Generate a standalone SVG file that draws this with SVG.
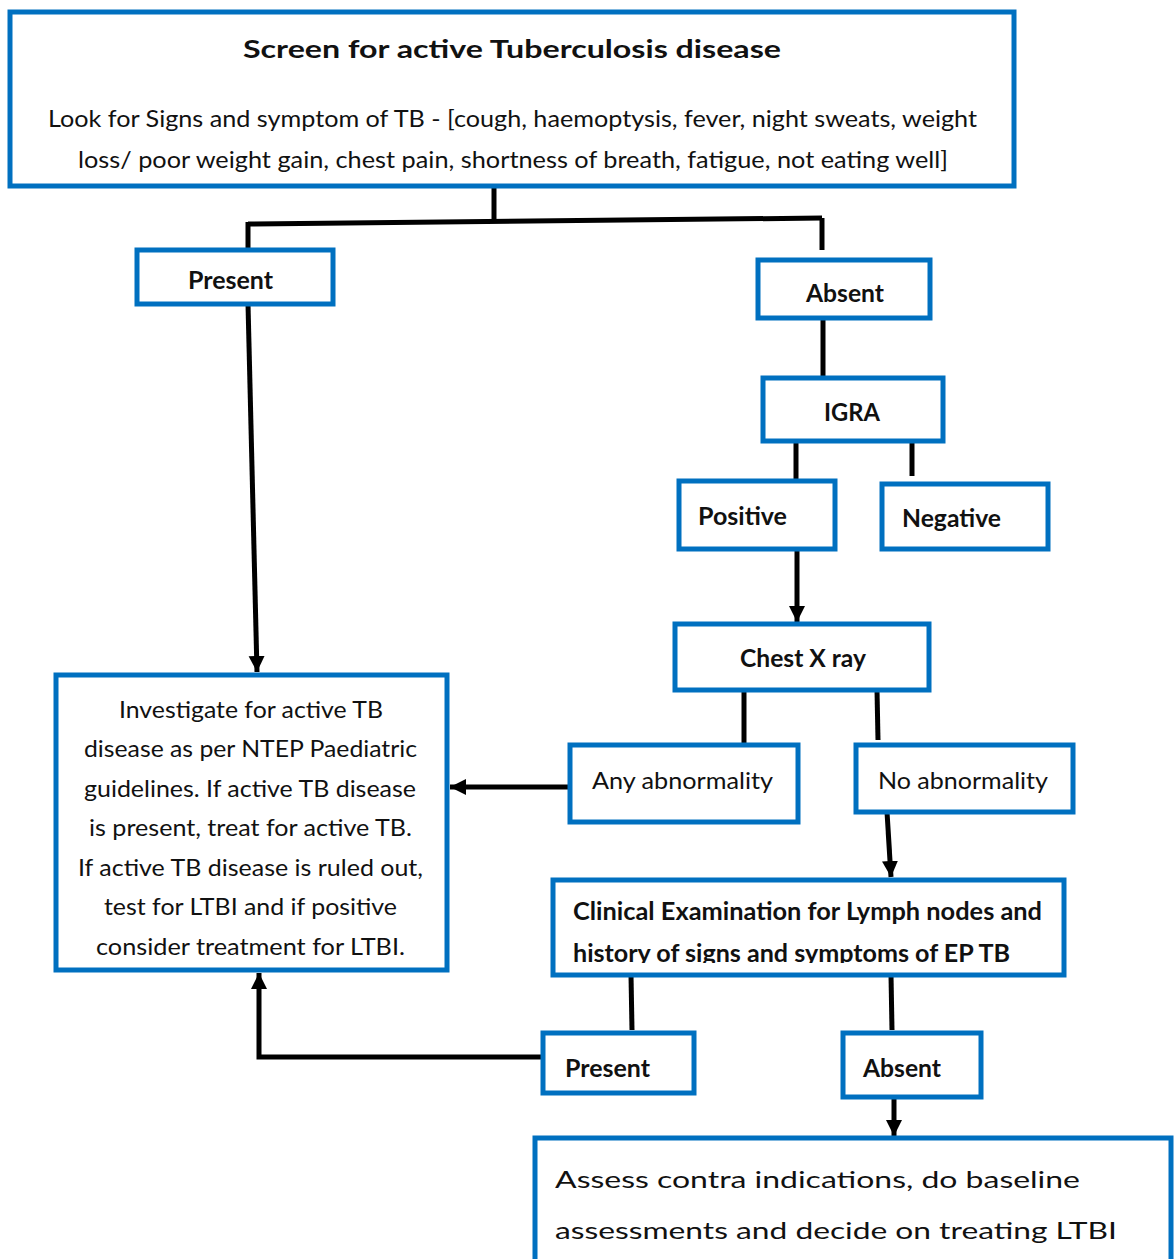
<svg xmlns="http://www.w3.org/2000/svg" width="1174" height="1259" viewBox="0 0 1174 1259">
<style>
.box{fill:#fff;stroke:#0070C0;stroke-width:5}
.ln{fill:none;stroke:#000;stroke-width:5}
text{font-family:Lato,"Open Sans","Liberation Sans",sans-serif;fill:#111;font-size:24px}
.b{font-weight:bold}
.c{text-anchor:middle}
</style>
<defs>
<marker id="ah" markerUnits="userSpaceOnUse" markerWidth="18" markerHeight="18" viewBox="0 0 18 18" refX="16" refY="9" orient="auto">
<path d="M0,1 L16,9 L0,17 Z" fill="#000"/>
</marker>
<clipPath id="clipClin"><rect x="556" y="883" width="505" height="80"/></clipPath>
</defs>
<rect width="1174" height="1259" fill="#fff"/>
<g id="connectors">
<path class="ln" d="M494,186 L494,220"/>
<path class="ln" d="M248,224 L822,218"/>
<path class="ln" d="M248,222 L248,250"/>
<path class="ln" d="M822,218 L822,250"/>
<path class="ln" d="M823,318 L823,378"/>
<path class="ln" d="M796,441 L796,481"/>
<path class="ln" d="M912,441 L912,476"/>
<path class="ln" d="M797,549 L797,622" marker-end="url(#ah)"/>
<path class="ln" d="M744,690 L744,745"/>
<path class="ln" d="M877,690 L878,740"/>
<path class="ln" d="M570,787 L450,787" marker-end="url(#ah)"/>
<path class="ln" d="M248,304 L257,672" marker-end="url(#ah)"/>
<path class="ln" d="M887,812 L891,877" marker-end="url(#ah)"/>
<path class="ln" d="M631,975 L632,1030"/>
<path class="ln" d="M891,975 L892,1030"/>
<path class="ln" d="M543,1057 L259,1057 L259,973" marker-end="url(#ah)"/>
<path class="ln" d="M894,1097 L894,1136" marker-end="url(#ah)"/>
</g>
<g id="screen">
<rect class="box" x="10" y="12" width="1004" height="174"/>
<text class="b" x="243" y="58" font-size="27" textLength="538" lengthAdjust="spacingAndGlyphs">Screen for active Tuberculosis disease</text>
<text x="48" y="127" textLength="929" lengthAdjust="spacingAndGlyphs">Look for Signs and symptom of TB - [cough, haemoptysis, fever, night sweats, weight</text>
<text x="78" y="168" textLength="870" lengthAdjust="spacingAndGlyphs">loss/ poor weight gain, chest pain, shortness of breath, fatigue, not eating well]</text>
</g>
<g id="present1">
<rect class="box" x="137" y="250" width="196" height="54"/>
<text class="b" x="188" y="289" textLength="85" lengthAdjust="spacingAndGlyphs">Present</text>
</g>
<g id="absent1">
<rect class="box" x="758" y="260" width="172" height="58"/>
<text class="b" x="806" y="302" textLength="78" lengthAdjust="spacingAndGlyphs">Absent</text>
</g>
<g id="igra">
<rect class="box" x="763" y="378" width="180" height="63"/>
<text class="b" x="824" y="421" textLength="56" lengthAdjust="spacingAndGlyphs">IGRA</text>
</g>
<g id="positive">
<rect class="box" x="679" y="481" width="156" height="68"/>
<text class="b" x="698" y="525" textLength="89" lengthAdjust="spacingAndGlyphs">Positive</text>
</g>
<g id="negative">
<rect class="box" x="882" y="484" width="166" height="65"/>
<text class="b" x="902" y="527" textLength="99" lengthAdjust="spacingAndGlyphs">Negative</text>
</g>
<g id="chestxray">
<rect class="box" x="675" y="624" width="254" height="66"/>
<text class="b" x="740" y="667" textLength="126" lengthAdjust="spacingAndGlyphs">Chest X ray</text>
</g>
<g id="anyabn">
<rect class="box" x="570" y="745" width="228" height="77"/>
<text x="592" y="789" textLength="181" lengthAdjust="spacingAndGlyphs">Any abnormality</text>
</g>
<g id="noabn">
<rect class="box" x="856" y="745" width="217" height="67"/>
<text x="878" y="789" textLength="170" lengthAdjust="spacingAndGlyphs">No abnormality</text>
</g>
<g id="investigate">
<rect class="box" x="56" y="675" width="391" height="295"/>
<text x="119" y="718" textLength="264" lengthAdjust="spacingAndGlyphs">Investigate for active TB</text>
<text x="84" y="757" textLength="333" lengthAdjust="spacingAndGlyphs">disease as per NTEP Paediatric</text>
<text x="84" y="797" textLength="332" lengthAdjust="spacingAndGlyphs">guidelines. If active TB disease</text>
<text x="89" y="836" textLength="323" lengthAdjust="spacingAndGlyphs">is present, treat for active TB.</text>
<text x="78" y="876" textLength="345" lengthAdjust="spacingAndGlyphs">If active TB disease is ruled out,</text>
<text x="104" y="915" textLength="293" lengthAdjust="spacingAndGlyphs">test for LTBI and if positive</text>
<text x="96" y="955" textLength="309" lengthAdjust="spacingAndGlyphs">consider treatment for LTBI.</text>
</g>
<g id="clinical">
<rect class="box" x="553" y="880" width="511" height="95"/>
<g clip-path="url(#clipClin)">
<text class="b" x="573" y="920" textLength="469" lengthAdjust="spacingAndGlyphs">Clinical Examination for Lymph nodes and</text>
<text class="b" x="573" y="962" textLength="437" lengthAdjust="spacingAndGlyphs">history of signs and symptoms of EP TB</text>
</g>
</g>
<g id="present2">
<rect class="box" x="543" y="1033" width="151" height="60"/>
<text class="b" x="565" y="1077" textLength="85" lengthAdjust="spacingAndGlyphs">Present</text>
</g>
<g id="absent2">
<rect class="box" x="843" y="1033" width="138" height="64"/>
<text class="b" x="863" y="1077" textLength="78" lengthAdjust="spacingAndGlyphs">Absent</text>
</g>
<g id="assess">
<rect class="box" x="535" y="1138" width="636" height="130"/>
<text x="555" y="1188" font-size="35" textLength="525" lengthAdjust="spacingAndGlyphs">Assess contra indications, do baseline</text>
<text x="555" y="1239" font-size="35" textLength="562" lengthAdjust="spacingAndGlyphs">assessments and decide on treating LTBI</text>
</g>
</svg>
